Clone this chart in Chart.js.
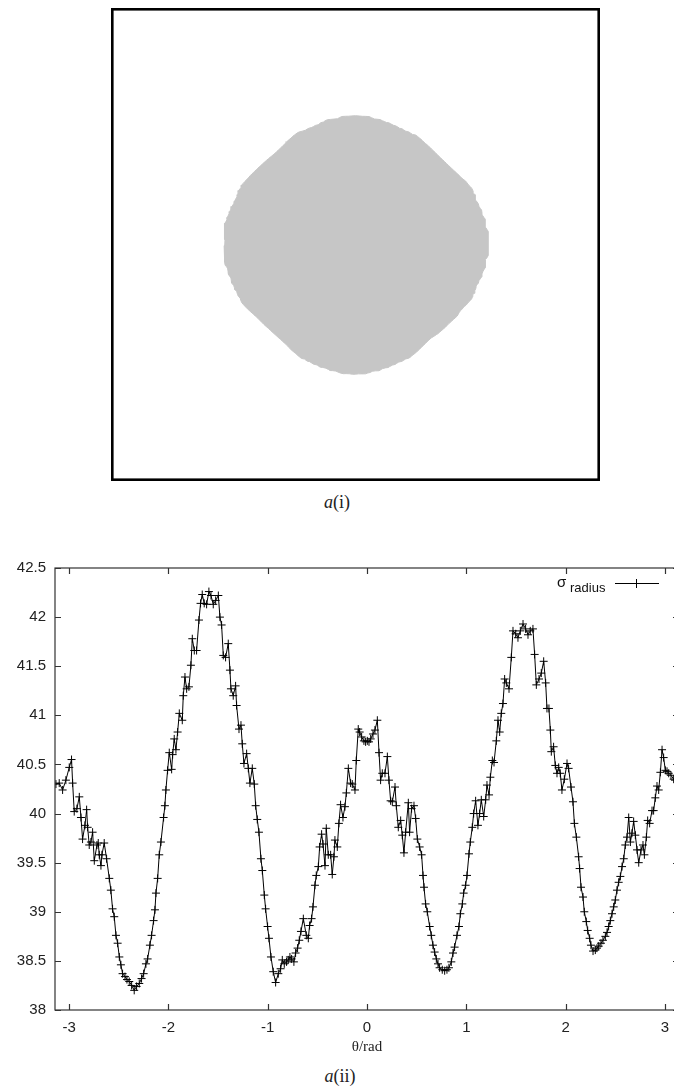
<!DOCTYPE html>
<html lang="en">
<head>
    <meta charset="UTF-8">
    <title>sigma radius vs theta</title>
    <script src="https://cdn.jsdelivr.net/npm/chart.js"></script>
    <style>
        html, body { margin: 0; padding: 0; background: #fff; overflow: hidden; }
        .box { position: absolute; }
        .cap {
            position: absolute;
            font-family: "Liberation Serif", "DejaVu Serif", serif;
            font-size: 18px;
            color: #222;
            transform: translateX(-50%);
            white-space: nowrap;
        }
    </style>
</head>
<body>

    <!-- a(i): the shape -->
    <div class="box" style="left:111px;top:8px;width:489px;height:473px"><canvas id="shapeChart"></canvas></div>
    <div class="cap" style="left:337px;top:492px"><i>a</i>(i)</div>

    <!-- a(ii): radius against angle -->
    <div class="box" style="left:0;top:550px;width:700px;height:510px"><canvas id="radiusChart"></canvas></div>
    <div class="cap" style="left:340px;top:1066px"><i>a</i>(ii)</div>

    <script>
        // [theta (rad), sigma radius], in five pieces
        const segA = [
            [-3.132,40.30],[-3.099,40.31],[-3.065,40.24],[-3.032,40.34],[-2.998,40.47],[-2.975,40.55],[-2.964,40.31],
            [-2.948,40.02],[-2.921,40.05],[-2.897,40.17],[-2.880,39.96],[-2.864,39.74],[-2.840,39.88],[-2.823,40.04],
            [-2.813,39.86],[-2.797,39.68],[-2.780,39.71],[-2.763,39.81],[-2.746,39.52],[-2.719,39.68],[-2.706,39.70],
            [-2.696,39.58],[-2.679,39.47],[-2.669,39.58],[-2.646,39.70],[-2.622,39.54],[-2.595,39.34],[-2.579,39.22],
            [-2.562,39.03],[-2.545,38.95],[-2.528,38.76],[-2.511,38.68],[-2.494,38.54],[-2.478,38.46],[-2.461,38.37],
            [-2.437,38.34],[-2.417,38.31],[-2.394,38.29],[-2.370,38.25],[-2.344,38.20],[-2.320,38.24],[-2.293,38.27],
            [-2.270,38.32],[-2.249,38.37],[-2.226,38.47],[-2.209,38.52],[-2.186,38.66],[-2.169,38.76],[-2.149,38.91],
            [-2.135,39.02],[-2.125,39.19],[-2.108,39.34],[-2.092,39.58],[-2.075,39.71],[-2.048,39.96],[-2.035,40.08],
            [-2.025,40.24],[-2.008,40.44],[-1.991,40.62],[-1.967,40.45],[-1.957,40.60],[-1.941,40.76],[-1.924,40.65],
            [-1.907,40.83],[-1.890,41.02]
        ];
        const segB = [
            [-1.860,40.95],[-1.850,41.20],[-1.833,41.39],[-1.816,41.27],[-1.793,41.29],[-1.773,41.51],[-1.759,41.78],
            [-1.739,41.66],[-1.716,41.66],[-1.692,41.97],[-1.676,42.14],[-1.659,42.23],[-1.639,42.14],[-1.615,42.13],
            [-1.592,42.26],[-1.571,42.22],[-1.548,42.13],[-1.524,42.17],[-1.497,42.22],[-1.481,42.00],[-1.464,41.92],
            [-1.447,41.61],[-1.424,41.59],[-1.397,41.73],[-1.380,41.46],[-1.370,41.27],[-1.347,41.20],[-1.323,41.30],
            [-1.313,41.10],[-1.289,40.86],[-1.269,40.90],[-1.256,40.71],[-1.239,40.51],[-1.212,40.61],[-1.195,40.46],
            [-1.179,40.31],[-1.155,40.46],[-1.135,40.30],[-1.121,40.08],[-1.105,39.94],[-1.088,39.81],[-1.068,39.54],
            [-1.054,39.42],[-1.034,39.17],[-1.021,39.03],[-1.001,38.85],[-0.987,38.73],[-0.967,38.54],[-0.944,38.39],
            [-0.920,38.28],[-0.893,38.37],[-0.870,38.42],[-0.853,38.51],[-0.833,38.47],[-0.810,38.49],[-0.793,38.51],
            [-0.776,38.54],[-0.759,38.52],[-0.736,38.49],[-0.719,38.58],[-0.699,38.63],[-0.682,38.71],[-0.665,38.80],
            [-0.641,38.93]
        ];
        const segC = [
            [-0.611,38.76],[-0.591,38.73],[-0.578,38.86],[-0.558,38.93],[-0.544,39.05],[-0.524,39.27],[-0.511,39.37],
            [-0.490,39.46],[-0.477,39.66],[-0.457,39.79],[-0.443,39.69],[-0.423,39.47],[-0.410,39.85],[-0.390,39.58],
            [-0.366,39.58],[-0.350,39.38],[-0.333,39.56],[-0.323,39.73],[-0.299,39.66],[-0.283,39.90],[-0.266,40.09],
            [-0.242,39.96],[-0.222,40.07],[-0.208,40.21],[-0.188,40.46],[-0.165,40.31],[-0.148,40.30],[-0.121,40.24],
            [-0.108,40.54],[-0.088,40.86],[-0.074,40.83],[-0.054,40.78],[-0.031,40.74],[-0.014,40.73],[0.003,40.74],
            [0.020,40.73],[0.037,40.76],[0.060,40.81],[0.080,40.85],[0.104,40.95],[0.121,40.62],[0.137,40.34],
            [0.154,40.41],[0.181,40.41],[0.205,40.58],[0.221,40.34],[0.238,40.13],[0.255,40.12],[0.282,40.27],
            [0.295,40.08],[0.315,39.86],[0.339,39.93],[0.355,39.78],[0.372,39.60],[0.389,39.81],[0.416,40.11],
            [0.429,39.81],[0.449,40.05],[0.473,40.08],[0.490,39.95],[0.507,39.74],[0.530,39.66],[0.550,39.58],
            [0.564,39.37],[0.574,39.25],[0.590,39.08],[0.607,39.00]
        ];
        const segD = [
            [0.631,38.85],[0.647,38.76],[0.664,38.66],[0.681,38.59],[0.698,38.52],[0.715,38.47],[0.731,38.43],
            [0.758,38.41],[0.782,38.40],[0.805,38.41],[0.825,38.43],[0.849,38.49],[0.866,38.58],[0.882,38.64],
            [0.906,38.76],[0.926,38.85],[0.940,38.98],[0.960,39.08],[0.973,39.19],[0.993,39.27],[1.007,39.37],
            [1.027,39.59],[1.040,39.71],[1.060,39.86],[1.074,40.00],[1.094,40.13],[1.117,39.88],[1.134,40.00],
            [1.151,40.14],[1.175,39.97],[1.195,40.14],[1.208,40.29],[1.229,40.19],[1.242,40.37],[1.262,40.54],
            [1.279,40.52],[1.302,40.74],[1.319,40.95],[1.336,40.83],[1.352,41.02],[1.369,41.12],[1.386,41.37],
            [1.403,41.33],[1.430,41.27],[1.453,41.59],[1.470,41.86],[1.497,41.83],[1.520,41.79],[1.544,41.86],
            [1.571,41.93],[1.597,41.88],[1.621,41.82],[1.644,41.86],[1.671,41.88],[1.688,41.62],[1.705,41.31],
            [1.732,41.37],[1.755,41.43],[1.779,41.55],[1.799,41.33],[1.812,41.07],[1.832,41.07],[1.846,40.85],
            [1.856,40.63]
        ];
        const segE = [
            [1.879,40.68],[1.896,40.49],[1.913,40.41],[1.930,40.47],[1.946,40.41],[1.963,40.24],[1.987,40.35],
            [2.014,40.51],[2.030,40.46],[2.054,40.27],[2.074,40.12],[2.088,39.90],[2.108,39.76],[2.131,39.56],
            [2.141,39.44],[2.155,39.25],[2.175,39.15],[2.188,39.00],[2.208,38.90],[2.222,38.81],[2.242,38.73],
            [2.255,38.66],[2.276,38.60],[2.299,38.61],[2.316,38.63],[2.333,38.65],[2.356,38.68],[2.376,38.71],
            [2.400,38.75],[2.417,38.79],[2.433,38.85],[2.450,38.91],[2.467,38.98],[2.484,39.05],[2.500,39.12],
            [2.517,39.22],[2.534,39.30],[2.551,39.36],[2.568,39.46],[2.585,39.54],[2.601,39.68],[2.618,39.76],
            [2.635,39.96],[2.652,39.71],[2.668,39.80],[2.685,39.92],[2.702,39.78],[2.719,39.63],[2.736,39.50],
            [2.759,39.63],[2.779,39.68],[2.793,39.58],[2.813,39.76],[2.826,39.93],[2.846,39.90],[2.870,40.03],
            [2.886,40.03],[2.903,40.16],[2.920,40.28],[2.937,40.24],[2.954,40.42],[2.971,40.65],[2.987,40.57],
            [3.004,40.44],[3.021,40.43],[3.038,40.41],[3.061,40.39],[3.088,40.35],[3.101,40.34]
        ];

        const xTicks = [-3, -2, -1, 0, 1, 2, 3];
        const yTicks = [38, 38.5, 39, 39.5, 40, 40.5, 41, 41.5, 42, 42.5];

        const samples = [...segA, ...segB, ...segC, ...segD, ...segE];
        const theta = samples.map(p => p[0]);
        const radius = samples.map(p => p[1]);

        // ---------- a(i): the blob, drawn in polar form from the same data ----------
        const blobPoints = theta.map((t, i) => ({ x: radius[i] * Math.cos(t), y: radius[i] * Math.sin(t) }));

        const boxFrame = {
            id: 'boxFrame',
            afterDraw(chart) {
                const { ctx, chartArea: a } = chart;
                ctx.save();
                ctx.strokeStyle = '#000';
                ctx.lineWidth = 2.6;
                ctx.strokeRect(a.left + 1.3, a.top + 1.3, a.right - a.left - 2.6, a.bottom - a.top - 2.6);
                ctx.restore();
            }
        };

        new Chart(document.getElementById('shapeChart'), {
            type: 'scatter',
            data: {
                datasets: [{
                    data: blobPoints,
                    showLine: true,
                    fill: 'shape',
                    backgroundColor: '#c6c6c6',
                    borderColor: '#c6c6c6',
                    borderWidth: 1,
                    pointRadius: 0,
                    tension: 0
                }]
            },
            options: {
                responsive: true,
                maintainAspectRatio: false,
                animation: false,
                layout: { padding: 0 },
                plugins: { legend: { display: false }, tooltip: { enabled: false } },
                scales: {
                    x: { display: false, min: -75, max: 75 },
                    y: { display: false, min: -77, max: 77 }
                }
            },
            plugins: [boxFrame]
        });

        // ---------- a(ii): radius against theta ----------
        // gnuplot-like frame with inward ticks on all four sides
        const frameTicks = {
            id: 'frameTicks',
            afterDraw(chart) {
                const { ctx, chartArea: a, scales: { x, y } } = chart;
                ctx.save();
                ctx.strokeStyle = '#333';
                ctx.lineWidth = 1.2;
                ctx.strokeRect(a.left, a.top, a.right - a.left, a.bottom - a.top);
                ctx.beginPath();
                x.ticks.forEach(t => {
                    const px = Math.round(x.getPixelForValue(t.value)) + 0.5;
                    ctx.moveTo(px, a.bottom); ctx.lineTo(px, a.bottom - 6);
                    ctx.moveTo(px, a.top); ctx.lineTo(px, a.top + 6);
                });
                y.ticks.forEach(t => {
                    const py = Math.round(y.getPixelForValue(t.value)) + 0.5;
                    ctx.moveTo(a.left, py); ctx.lineTo(a.left + 6, py);
                    ctx.moveTo(a.right, py); ctx.lineTo(a.right - 6, py);
                });
                ctx.stroke();
                ctx.restore();
            }
        };

        // key in the top right corner: sigma with subscript, line and cross
        const sigmaKey = {
            id: 'sigmaKey',
            afterDraw(chart) {
                const { ctx, chartArea: a } = chart;
                const ly = a.top + 15;
                ctx.save();
                ctx.fillStyle = '#111';
                ctx.textBaseline = 'alphabetic';
                ctx.textAlign = 'left';
                ctx.font = '15px "Liberation Sans", Arial, sans-serif';
                ctx.fillText('σ', a.right - 122, a.top + 19);
                ctx.font = '13px "Liberation Sans", Arial, sans-serif';
                ctx.fillText('radius', a.right - 109, a.top + 24);
                ctx.strokeStyle = '#000';
                ctx.lineWidth = 1;
                ctx.beginPath();
                ctx.moveTo(a.right - 64, ly + 0.5); ctx.lineTo(a.right - 20, ly + 0.5);
                ctx.moveTo(a.right - 42.5, ly - 4); ctx.lineTo(a.right - 42.5, ly + 5);
                ctx.moveTo(a.right - 47, ly + 0.5); ctx.lineTo(a.right - 38, ly + 0.5);
                ctx.stroke();
                ctx.restore();
            }
        };

        const tickFont = { family: '"Liberation Sans", Arial, sans-serif', size: 15 };

        new Chart(document.getElementById('radiusChart'), {
            type: 'scatter',
            data: {
                datasets: [{
                    label: 'σ radius',
                    data: theta.map((t, i) => ({ x: t, y: radius[i] })),
                    showLine: true,
                    borderColor: '#000',
                    borderWidth: 1,
                    tension: 0,
                    pointStyle: 'cross',
                    pointRadius: 4,
                    pointBorderColor: '#000',
                    pointBorderWidth: 1
                }]
            },
            options: {
                responsive: true,
                maintainAspectRatio: false,
                animation: false,
                layout: { padding: { top: 17, right: 21, left: 0, bottom: 0 } },
                plugins: { legend: { display: false }, tooltip: { enabled: false } },
                scales: {
                    x: {
                        type: 'linear',
                        min: -Math.PI,
                        max: Math.PI,
                        afterBuildTicks: s => { s.ticks = xTicks.map(v => ({ value: v })); },
                        afterFit: s => { s.height = 50; },
                        grid: { display: false, drawTicks: false },
                        border: { display: false },
                        ticks: {
                            padding: 9,
                            color: '#222',
                            font: tickFont,
                            maxRotation: 0,
                            autoSkip: false,
                            callback: v => String(v)
                        },
                        title: {
                            display: true,
                            text: 'θ/rad',
                            color: '#222',
                            font: { family: '"Liberation Serif", "DejaVu Serif", serif', size: 15 },
                            padding: { top: 0, bottom: 4 }
                        }
                    },
                    y: {
                        min: 38,
                        max: 42.5,
                        afterBuildTicks: s => { s.ticks = yTicks.map(v => ({ value: v })); },
                        afterFit: s => { s.width = 55; },
                        grid: { display: false, drawTicks: false },
                        border: { display: false },
                        ticks: {
                            padding: 9,
                            color: '#222',
                            font: tickFont,
                            autoSkip: false,
                            callback: v => String(v)
                        }
                    }
                }
            },
            plugins: [frameTicks, sigmaKey]
        });
    </script>
</body>
</html>
